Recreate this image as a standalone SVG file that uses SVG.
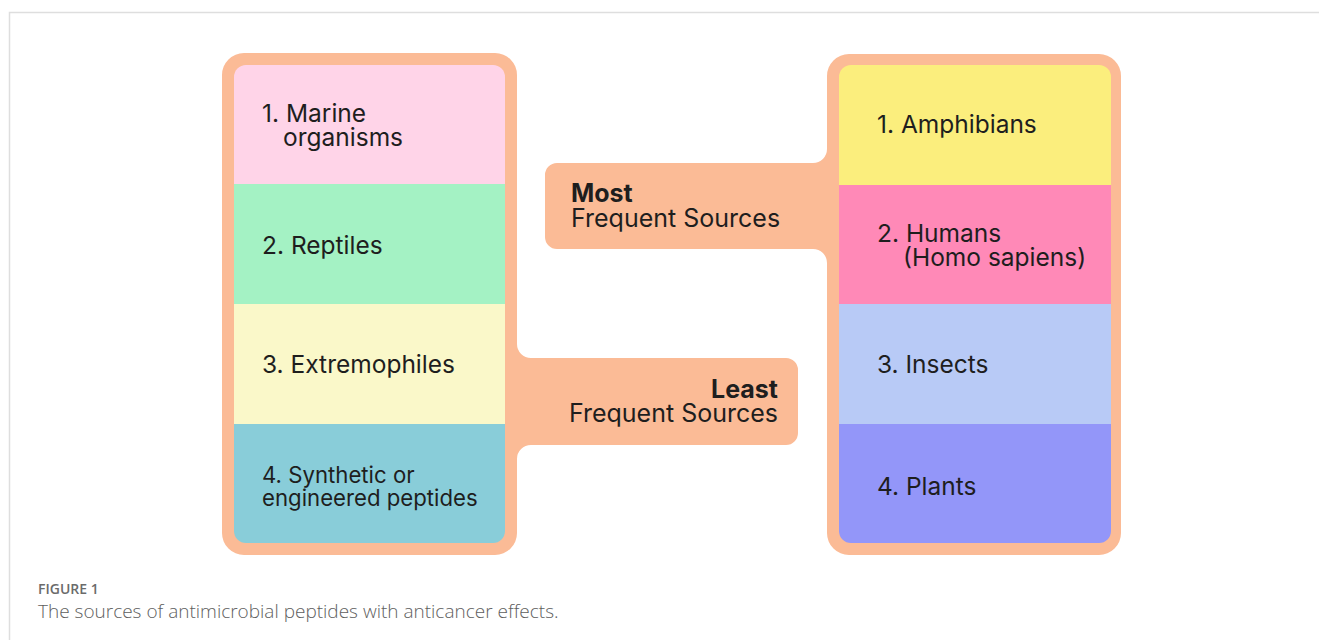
<svg xmlns="http://www.w3.org/2000/svg" width="1319" height="640" viewBox="0 0 1319 640">
  <style>
    .frame { fill: none; stroke: #dedede; stroke-width: 1.5; }
    .orange { fill: #fbbb96; }
    .lbl { font-family: Inter, "Liberation Sans", sans-serif; font-size: 24.5px; fill: #1e1e1e; }
    .tab { font-size: 25px; }
    .small { font-size: 22.2px; }
    .bold { font-weight: 700; }
    .cap1 { font-family: "Open Sans", "Liberation Sans", sans-serif; font-size: 14px; font-weight: 600; fill: #6b6b6b; }
    .cap2 { font-family: "Open Sans", "Liberation Sans", sans-serif; font-size: 19px; font-weight: 300; fill: #5e5e5e; }
  </style>
  <defs>
    <clipPath id="clipL"><rect x="234" y="65" width="271" height="478" rx="12"/></clipPath>
    <clipPath id="clipR"><rect x="839" y="65" width="272" height="478" rx="12"/></clipPath>
  </defs>
  <rect width="1319" height="640" fill="#ffffff"/>
  <path class="frame" d="M9.5 640 V12.5 H1319"/>

  <g id="connectors">
    <path id="left-frame" class="orange" d="M244 53 H495 A22 22 0 0 1 517 75 V344 A14 14 0 0 0 531 358 H786 A12 12 0 0 1 798 370 V433 A12 12 0 0 1 786 445 H531 A14 14 0 0 0 517 459 V533 A22 22 0 0 1 495 555 H244 A22 22 0 0 1 222 533 V75 A22 22 0 0 1 244 53 Z"/>
    <path id="right-frame" class="orange" d="M849 54 H1099 A22 22 0 0 1 1121 76 V533 A22 22 0 0 1 1099 555 H849 A22 22 0 0 1 827 533 V263 A14 14 0 0 0 813 249 H557 A12 12 0 0 1 545 237 V175 A12 12 0 0 1 557 163 H813 A14 14 0 0 0 827 149 V76 A22 22 0 0 1 849 54 Z"/>
  </g>

  <g id="least-label">
    <text class="lbl tab bold" x="778" y="398" text-anchor="end">Least</text>
    <text class="lbl tab" x="778" y="422" text-anchor="end">Frequent Sources</text>
  </g>
  <g id="most-label">
    <text class="lbl tab bold" x="571" y="202">Most</text>
    <text class="lbl tab" x="571" y="227">Frequent Sources</text>
  </g>

  <g clip-path="url(#clipL)">
    <g id="marine">
      <rect x="234" y="65" width="271" height="119" fill="#ffd4e8"/>
      <text class="lbl" x="262" y="122">1. Marine</text>
      <text class="lbl" x="283" y="146">organisms</text>
    </g>
    <g id="reptiles">
      <rect x="234" y="184" width="271" height="120" fill="#a4f2c4"/>
      <text class="lbl" x="262" y="254">2. Reptiles</text>
    </g>
    <g id="extremophiles">
      <rect x="234" y="304" width="271" height="120" fill="#faf8c9"/>
      <text class="lbl" x="262" y="373">3. Extremophiles</text>
    </g>
    <g id="synthetic">
      <rect x="234" y="424" width="271" height="119" fill="#89cdd9"/>
      <text class="lbl small" x="262" y="483">4. Synthetic or</text>
      <text class="lbl small" x="262" y="506">engineered peptides</text>
    </g>
  </g>

  <g clip-path="url(#clipR)">
    <g id="amphibians">
      <rect x="839" y="65" width="272" height="120" fill="#fbee7d"/>
      <text class="lbl" x="877" y="133">1. Amphibians</text>
    </g>
    <g id="humans">
      <rect x="839" y="185" width="272" height="119" fill="#ff89b7"/>
      <text class="lbl" x="877" y="242">2. Humans</text>
      <text class="lbl" x="903" y="266">(Homo sapiens)</text>
    </g>
    <g id="insects">
      <rect x="839" y="304" width="272" height="120" fill="#b8caf6"/>
      <text class="lbl" x="877" y="373">3. Insects</text>
    </g>
    <g id="plants">
      <rect x="839" y="424" width="272" height="119" fill="#9396f9"/>
      <text class="lbl" x="877" y="495">4. Plants</text>
    </g>
  </g>

  <g id="caption">
    <text class="cap1" x="38" y="594">FIGURE 1</text>
    <text class="cap2" x="38" y="618">The sources of antimicrobial peptides with anticancer effects.</text>
  </g>
</svg>
